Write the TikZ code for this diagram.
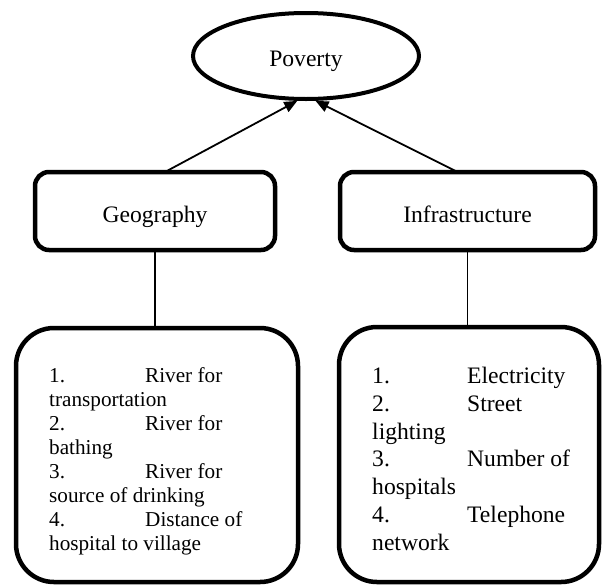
\documentclass[tikz,border=0pt]{standalone}
\usepackage{fontspec}
\setmainfont{Liberation Serif}
\usetikzlibrary{arrows.meta,shapes.geometric}

\begin{document}
\begin{tikzpicture}[x=1pt,y=1pt,
  font=\fontsize{23.6}{27.8}\selectfont,
  oval/.style={ellipse,draw,line width=4pt,minimum width=226pt,minimum height=86pt,inner sep=0pt,
    text height=22pt,text depth=2pt},
  factor/.style={draw,rounded corners=14pt,line width=4.5pt,minimum height=78pt,inner sep=0pt,outer sep=0pt,
    text height=24pt,text depth=2pt},
  listbox/.style={draw,rounded corners=38pt,line width=4.5pt,inner sep=0pt,outer sep=0pt},
  listtext/.style={anchor=north west,align=left,inner sep=0pt},
  arr/.style={-{Triangle[length=13pt,width=11pt]},line width=1.8pt},
  link/.style={line width=1.5pt}]

  \useasboundingbox (0,0) rectangle (604,-587);

  % top concept
  \node[oval] (poverty) at (306,-56) {Poverty};

  % the two factors
  \node[factor,minimum width=240pt] (geo) at (155,-211) {Geography};
  \node[factor,minimum width=255pt] (infra) at (467.5,-211) {Infrastructure};
  \draw[arr] ([xshift=10pt]geo.north) -- (poverty.259);
  \draw[arr] ([xshift=-10pt]infra.north) -- (poverty.282);

  % indicator boxes
  \node[listbox,minimum width=282pt,minimum height=254pt] (geobox) at (157,-455) {};
  \node[listbox,minimum width=260pt,minimum height=255pt] (infrabox) at (469,-454.5) {};
  \draw[link] (geo.south) -- (geo.south |- geobox.north);
  \draw[link] (infra.south) -- (infra.south |- infrabox.north);

  \node[listtext,font=\fontsize{21.2}{24}\selectfont] (geolist) at (49,-367)
    {\makebox[96pt][l]{1.}River for\\
     transportation\\
     \makebox[96pt][l]{2.}River for\\
     bathing\\
     \makebox[96pt][l]{3.}River for\\
     source of drinking\\
     \makebox[96pt][l]{4.}Distance of\\
     hospital to village};
  \node[listtext] (infralist) at (372,-367)
    {\makebox[95pt][l]{1.}Electricity\\
     \makebox[95pt][l]{2.}Street\\
     lighting\\
     \makebox[95pt][l]{3.}Number of\\
     hospitals\\
     \makebox[95pt][l]{4.}Telephone\\
     network};

\end{tikzpicture}
\end{document}
